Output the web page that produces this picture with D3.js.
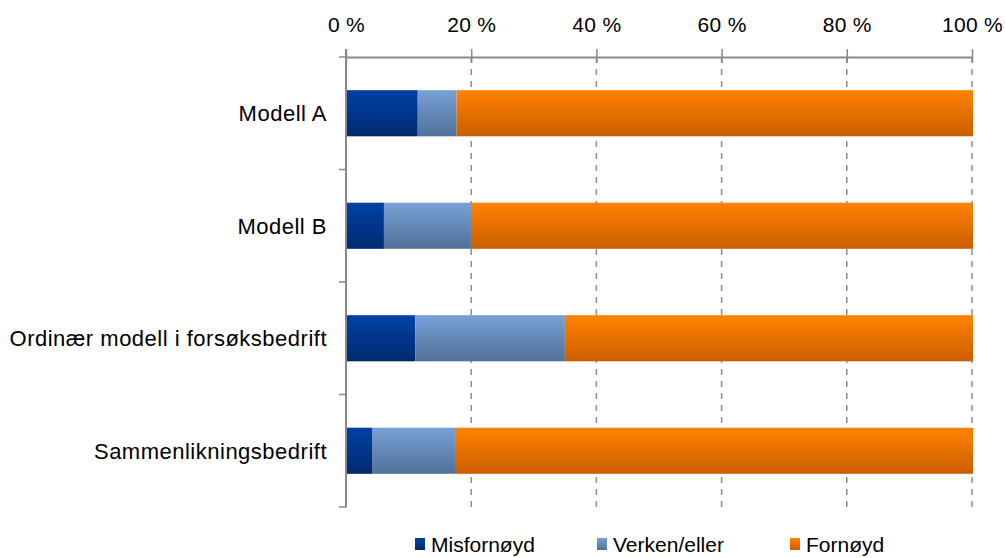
<!DOCTYPE html>
<html>
<head>
<meta charset="utf-8">
<script src="https://cdn.jsdelivr.net/npm/d3@7"></script>
<style>
    body { margin: 0; background: #fff; }
    text { font-family: "Liberation Sans", Arial, sans-serif; fill: #000; }
</style>
</head>
<body>
<div id="chart"></div>
<script>
(function () {

    // Data (percent of respondents)
    var categories = ["Modell A", "Modell B", "Ordinær modell i forsøksbedrift", "Sammenlikningsbedrift"];
    var misfornoyd = [11.3, 5.9, 10.9, 4.0];
    var verken = [6.2, 13.9, 23.9, 13.4];
    var fornoyd = [82.5, 80.2, 65.2, 82.6];
    var seriesNames = ["Misfornøyd", "Verken/eller", "Fornøyd"];
    var xTicks = [0, 20, 40, 60, 80, 100];

    // Gradient colours (top, bottom) for each series
    var gradients = [
        ["#0041a4", "#002a70"],
        ["#78a1d6", "#50709a"],
        ["#ff8200", "#cc5e00"]
    ];

    var width = 1005, height = 558;
    var plot = {left: 346, right: 972, top: 57, bottom: 507};
    var axisColor = "#888888";

    var svg = d3.select("#chart")
        .append("svg")
        .attr("width", width)
        .attr("height", height);

    var defs = svg.append("defs");
    gradients.forEach(function (g, i) {
        var lg = defs.append("linearGradient")
            .attr("id", "grad" + i)
            .attr("x1", 0).attr("y1", 0)
            .attr("x2", 0).attr("y2", 1);
        lg.append("stop").attr("offset", "0%").attr("stop-color", g[0]);
        lg.append("stop").attr("offset", "100%").attr("stop-color", g[1]);
    });

    var x = d3.scaleLinear()
        .domain([0, 100])
        .range([plot.left, plot.right]);

    // band scale for the bars
    var y = d3.scaleBand()
        .domain(categories)
        .range([plot.top, plot.bottom])
        .paddingInner(0.59)
        .paddingOuter(0.295);

    // band scale for the category slots (ticks and labels)
    var ySlot = d3.scaleBand()
        .domain(categories)
        .range([plot.top, plot.bottom])
        .padding(0);

    // Stack the series
    var rows = categories.map(function (c, i) {
        return {cat: c, s0: misfornoyd[i], s1: verken[i], s2: fornoyd[i]};
    });
    var stack = d3.stack().keys(["s0", "s1", "s2"]);
    var stacked = stack(rows);

    // Dashed gridlines
    svg.append("g")
        .selectAll("line")
        .data(xTicks.filter(function (d) { return d > 0; }))
        .enter().append("line")
        .attr("x1", function (d) { return x(d); })
        .attr("x2", function (d) { return x(d); })
        .attr("y1", plot.top)
        .attr("y2", plot.bottom)
        .attr("stroke", "#8c8c8c")
        .attr("stroke-width", 1.5)
        .attr("stroke-dasharray", "6,6");

    // Bars
    svg.append("g")
        .selectAll("g")
        .data(stacked)
        .enter().append("g")
        .attr("fill", function (d, i) { return "url(#grad" + i + ")"; })
        .selectAll("rect")
        .data(function (d) { return d; })
        .enter().append("rect")
        .attr("x", function (d) { return x(d[0]) + 1; })
        .attr("width", function (d) { return x(d[1]) - x(d[0]); })
        .attr("y", function (d) { return y(d.data.cat); })
        .attr("height", y.bandwidth());

    // Top axis
    var xAxis = d3.axisTop(x)
        .tickValues(xTicks)
        .tickSizeInner(8)
        .tickSizeOuter(0)
        .tickPadding(10)
        .tickFormat(function (d) { return d + " %"; });

    var gx = svg.append("g")
        .attr("transform", "translate(0," + plot.top + ")")
        .call(xAxis);
    gx.select(".domain")
        .attr("stroke", axisColor)
        .attr("stroke-width", 2);
    gx.selectAll(".tick line")
        .attr("stroke", axisColor)
        .attr("stroke-width", 1.5)
        .attr("y2", -8);
    gx.selectAll(".tick").append("line")
        .attr("stroke", axisColor)
        .attr("stroke-width", 1.5)
        .attr("y1", 0)
        .attr("y2", 6);
    gx.selectAll(".tick text")
        .style("font-size", "21px")
        .style("letter-spacing", "0.3px")
        .attr("font-family", null)
        .attr("y", -25)
        .attr("dy", 0);

    // Left axis line
    svg.append("line")
        .attr("x1", plot.left).attr("x2", plot.left)
        .attr("y1", plot.top - 8).attr("y2", plot.bottom)
        .attr("stroke", axisColor)
        .attr("stroke-width", 2);

    // Category boundary ticks on the left axis
    var boundaries = categories.map(function (c) { return ySlot(c); }).concat([plot.bottom]);
    svg.append("g")
        .selectAll("line")
        .data(boundaries)
        .enter().append("line")
        .attr("x1", plot.left - 7)
        .attr("x2", plot.left)
        .attr("y1", function (d) { return d; })
        .attr("y2", function (d) { return d; })
        .attr("stroke", axisColor)
        .attr("stroke-width", 1.5);

    // Category labels
    svg.append("g")
        .selectAll("text")
        .data(categories)
        .enter().append("text")
        .attr("x", 327)
        .attr("y", function (d) { return ySlot(d) + ySlot.bandwidth() / 2 + 8; })
        .attr("text-anchor", "end")
        .style("font-size", "22px")
        .style("letter-spacing", "0.5px")
        .text(function (d) { return d; });

    // Legend
    var legendX = [415, 597, 790];
    var legend = svg.append("g")
        .selectAll("g")
        .data(seriesNames)
        .enter().append("g")
        .attr("transform", function (d, i) { return "translate(" + legendX[i] + ",0)"; });

    legend.append("rect")
        .attr("x", 0)
        .attr("y", 538)
        .attr("width", 10)
        .attr("height", 12)
        .attr("fill", function (d, i) { return "url(#grad" + i + ")"; });

    legend.append("text")
        .attr("x", 16)
        .attr("y", 552)
        .style("font-size", "21px")
        .text(function (d) { return d; });

})();
</script>
</body>
</html>
